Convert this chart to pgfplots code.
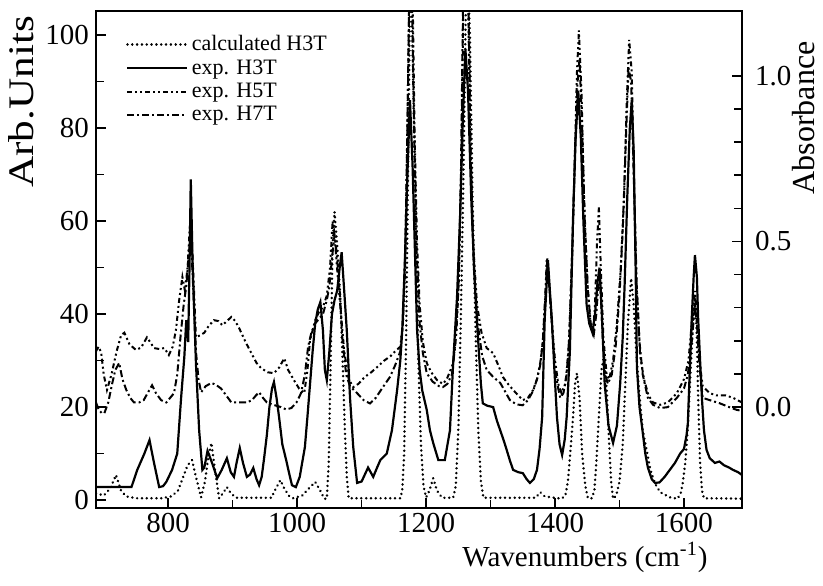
\documentclass[border=0pt]{standalone}
\usepackage{fontspec}
\setmainfont{Liberation Serif}
\usepackage{pgfplots}
\pgfplotsset{compat=1.18}
\begin{document}
\begin{tikzpicture}
\path[use as bounding box] (-48pt,-38.5pt) rectangle (363.5pt,254pt);
\begin{axis}[
  scale only axis, width=323pt, height=248.5pt,
  xmin=688, xmax=1690, ymin=-1.7, ymax=105.2,
  xtick={800,1000,1200,1400,1600}, minor x tick num=1,
  ytick={0,20,40,60,80,100}, minor y tick num=1,
  xtick pos=lower, ytick pos=left,
  tick align=inside, major tick length=5pt, minor tick length=4pt,
  tick style={line width=0.8pt,black},
  axis line style={line width=1.1pt},
  /pgf/number format/assume math mode=true,
  /pgf/number format/1000 sep={},
  tick label style={font=\fontsize{14.5}{16}\selectfont},
  xticklabel style={yshift=1pt},
  xlabel={Wavenumbers (cm\textsuperscript{-1})},
  xlabel style={font=\fontsize{14.5}{17}\selectfont, at={(ticklabel cs:0.757)}, anchor=north, yshift=2pt},
  ylabel={\scalebox{1.2}[1]{Arb.Units}},
  ylabel style={font=\fontsize{18}{20}\selectfont, at={(rel axis cs:0,0.817)}, anchor=center, yshift=37.5pt},
  legend cell align=left,
  legend style={at={(rel axis cs:0.046,0.958)}, anchor=north west, draw=none, fill=none,
    font=\fontsize{11}{12}\selectfont, row sep=0pt, inner sep=0pt, nodes={inner sep=1.5pt}},
  legend image code/.code={\draw[#1] (0pt,0pt) -- (30pt,0pt);},
  clip=true,
]
\addplot[black, line width=1.35pt, dash pattern=on 0.01pt off 2.4pt, line cap=round] coordinates {
(688,1.5) (700,1.0) (710,2.5) (719,5.4) (727,2.0) (735,0.8) (750,0.4) (790,0.4) (805,0.8) (815,2) (822,4.5) (830,7.5) (837,8.6) (843,5) (851,0.6) (857,4) (862,9) (867,12.3) (872,7) (879,0.4) (885,1.5) (891,2.8) (897,1.5) (905,0.5) (960,0.5) (967,2.5) (974,4.3) (980,2.5) (988,0.8) (994,0.4) (1008,1) (1018,2.5) (1028,3.9) (1036,2) (1042,0.3) (1046,0.3) (1049,8) (1052,30) (1055,55) (1058,62) (1062,55) (1067,43.7) (1071,28) (1074,15) (1077,5) (1080,0.4) (1160,0.4) (1163,2) (1166,10) (1169,35) (1172,70) (1176,120) (1180,90) (1184,60) (1188,30) (1192,12) (1196,3) (1200,0.6) (1205,2) (1211,4.7) (1217,2) (1225,0.5) (1242,0.5) (1246,3) (1250,15) (1254,40) (1258,70) (1263,120) (1268,100) (1272,65) (1277,35) (1281,15) (1285,4) (1289,0.5) (1370,0.5) (1377,1.7) (1384,0.8) (1410,0.3) (1416,1) (1420,4) (1424,10.8) (1428,18) (1431,25) (1434,27.3) (1438,22) (1442,10) (1447,3) (1451,0.4) (1457,0.4) (1461,2) (1464,8) (1468,18) (1472,28) (1476,31) (1480,24) (1484,12) (1487,4) (1490,0.3) (1495,1) (1500,4) (1505,12) (1509,25) (1513,38) (1518,47.7) (1522,42) (1526,32) (1530,24) (1536,15) (1542,10.8) (1548,6.5) (1555,3.6) (1563,1.7) (1578,0.6) (1590,0.3) (1595,1.5) (1598,3.6) (1602,8) (1606,15.7) (1610,27) (1614,38) (1617,43.6) (1620,35) (1622,22) (1625,8) (1628,2) (1631,0.4) (1690,0.3)
};
\addlegendentry{calculated H3T}
\addplot[black, line width=1.1pt] coordinates {
(688,2.8) (700,2.8) (720,2.8) (743,2.8) (752,6.5) (763,10) (771,12.9) (778,8) (786,2.8) (792,3) (797,3.9) (806,6.5) (814,10) (820,22) (825,30.8) (828,38.7) (831,34) (833,50) (835,69) (838,50) (843,29.5) (848,15) (853,6.5) (856,7) (861,10.6) (868,8) (876,4.7) (883,6.5) (891,9) (897,6) (902,5) (906,8) (911,11.2) (916,8) (922,5) (927,5.5) (932,6.9) (937,4.5) (941,3.2) (945,5) (949,9.3) (953,14) (957,20) (961,24) (964,25.4) (968,22) (972,17.8) (977,12) (983,8.6) (988,5.5) (992,3.2) (998,2.8) (1004,5) (1012,11.4) (1016,18) (1020,25) (1024,32) (1028,38) (1032,41) (1036,42.6) (1040,36.5) (1043,28) (1046,25.8) (1050,32) (1054,40) (1058,43) (1062,45) (1066,50) (1069,53.3) (1073,45) (1077,36.5) (1082,22) (1087,11.4) (1093,3.7) (1100,4) (1105,5.5) (1110,7) (1114,6) (1118,5) (1124,7) (1129,8.6) (1139,10) (1147,15) (1155,23.6) (1160,30) (1163,36.5) (1167,51) (1171,70) (1175,86) (1179,72) (1183,52) (1186,36.6) (1190,28) (1194,23.6) (1201,19.4) (1206,15) (1211,12.3) (1219,8.6) (1229,8.6) (1237,15) (1242,29.5) (1248,43.7) (1253,62) (1257,82) (1261,97) (1265,88) (1270,65) (1275,48) (1280,36) (1285,25) (1288,20.8) (1295,20.3) (1304,20) (1310,17) (1315,15) (1320,13) (1325,10.8) (1330,8.5) (1335,6.5) (1343,6) (1350,5.8) (1356,4.5) (1361,3.7) (1367,4.5) (1372,6.5) (1376,11) (1380,17.8) (1384,39) (1389,51.6) (1392,45) (1395,39) (1399,28) (1403,17.8) (1407,12) (1411,9.7) (1415,13) (1418,17.8) (1423,32) (1428,61) (1432,78) (1436,88) (1440,78) (1444,60) (1449,42) (1453,38) (1458,36) (1462,40) (1466,47) (1469,50) (1472,42) (1477,25) (1483,16) (1490,12.3) (1496,16) (1501,25) (1505,35) (1508,46.6) (1512,65) (1516,80) (1519,86) (1522,75) (1525,50) (1527,28.6) (1531,20) (1535,15.7) (1540,10) (1544,7) (1550,4.5) (1555,3.7) (1562,3.8) (1570,5) (1578,6.5) (1586,8) (1594,10) (1600,11) (1604,14) (1606,16.5) (1609,28) (1612,39) (1615,48) (1617,52.7) (1620,48) (1622,39) (1625,30) (1628,21.5) (1631,15) (1635,10.8) (1640,9) (1648,8) (1655,8.3) (1662,7.5) (1670,7) (1676,6.5) (1684,6) (1690,5.4)
};
\addlegendentry{exp. H3T}
\addplot[black, line width=1pt, dash pattern=on 2.5pt off 1.5pt on 1pt off 1.5pt on 1pt off 1.5pt] coordinates {
(688,32) (692,33) (696,31.8) (700,27) (705,23.7) (712,27) (720,32) (727,35.5) (732,36) (740,33.5) (750,32.3) (758,32.8) (767,35) (772,34) (778,32.7) (786,32.5) (794,32.7) (801,31.2) (807,33) (812,36.6) (817,43) (822,48) (826,45) (830,50) (834,60) (838,52) (843,35) (850,35.5) (856,36) (863,37.5) (871,38.7) (878,38.5) (884,37.6) (891,38.5) (898,39.4) (904,38.5) (910,37) (920,34) (929,31.6) (937,29.5) (944,28.4) (954,27.5) (964,27.3) (972,28.5) (980,30.5) (986,28) (995,25.8) (1003,24) (1011,23) (1016,28) (1020,34.4) (1028,38.7) (1034,40.5) (1040,41.5) (1046,44) (1051,50) (1055,60) (1059,55) (1063,48) (1068,40) (1073,32) (1080,26) (1087,24.3) (1095,25) (1105,26.5) (1115,27.5) (1124,28.6) (1135,30) (1145,31) (1152,32) (1160,33) (1164,38) (1167,48) (1170,70) (1174,110) (1178,120) (1182,80) (1186,55) (1190,42) (1195,34) (1201,29.5) (1208,27.5) (1217,25.8) (1226,25) (1232,26) (1238,28) (1242,29.5) (1247,36) (1251,48) (1255,75) (1259,120) (1264,120) (1268,80) (1273,55) (1279,42) (1286,36) (1294,32.7) (1304,31.6) (1312,29) (1319,26.5) (1327,25) (1335,23.7) (1343,22.5) (1350,21.5) (1358,22) (1366,23.7) (1372,26) (1377,29.5) (1381,34) (1384,40) (1387,51.6) (1390,48) (1394,40) (1400,30) (1405,25) (1410,23) (1416,25) (1421,32) (1426,50) (1430,70) (1434,92) (1437,101) (1441,88) (1445,65) (1450,47) (1455,38) (1459,36) (1462,42) (1465,55) (1468,63) (1471,50) (1475,35) (1480,27) (1484,26) (1490,30) (1496,38) (1502,50) (1507,65) (1511,85) (1515,99) (1519,92) (1523,65) (1527,45) (1532,31) (1538,26) (1545,22.5) (1552,21) (1563,20.5) (1575,21) (1589,23) (1600,26) (1607,30) (1612,38) (1617,45) (1620,40) (1624,30) (1629,24.5) (1640,23) (1651,22.5) (1665,22.5) (1676,22) (1690,21)
};
\addlegendentry{exp. H5T}
\addplot[black, line width=1pt, dash pattern=on 3.5pt off 1.5pt on 1pt off 1.5pt] coordinates {
(688,21) (692,19.5) (697,18.7) (701,18.7) (707,21) (713,25) (718,28) (724,29.5) (729,26) (735,23.7) (741,22) (747,21) (755,21) (762,21.5) (768,23) (775,24.7) (781,23) (789,21.5) (797,21) (803,22) (809,23) (814,27) (819,35) (824,42) (828,46) (832,53) (835,57) (839,45) (843,32) (847,26) (851,23.2) (858,24.5) (867,25.2) (874,24.8) (882,24) (890,22.5) (898,21) (910,21) (922,21) (930,21.5) (936,22.5) (941,23.2) (947,22) (953,21) (963,20.5) (975,20) (983,19.5) (991,19.8) (999,21) (1006,23) (1012,27) (1017,33) (1022,36) (1028,38) (1034,39) (1040,40) (1046,43) (1050,46) (1054,52) (1058,57) (1062,52) (1066,45) (1070,35) (1076,27) (1082,24.5) (1093,23) (1103,21.5) (1113,20.8) (1122,22) (1134,24.5) (1144,26.5) (1152,29) (1160,32) (1164,38) (1168,55) (1172,90) (1176,130) (1180,90) (1185,55) (1190,38) (1195,31.6) (1201,27.3) (1210,25.5) (1220,24.5) (1226,24.3) (1233,25) (1240,27) (1245,33) (1250,45) (1254,70) (1259,125) (1264,125) (1269,75) (1274,50) (1280,38) (1287,31) (1294,28) (1304,26.5) (1315,25.2) (1322,23.5) (1330,21.5) (1340,20.6) (1350,20.4) (1358,21.5) (1366,23.5) (1372,26) (1377,29) (1381,34) (1384,42) (1388,52) (1391,46) (1395,38) (1400,28) (1405,24) (1408,22) (1413,23) (1418,27) (1422,35) (1427,55) (1431,75) (1435,90) (1438,95) (1442,80) (1446,60) (1451,45) (1456,37) (1460,35.5) (1464,40) (1467,46) (1470,47) (1474,35) (1478,27) (1482,25) (1488,27) (1494,33) (1500,44) (1505,58) (1510,78) (1514,93) (1518,90) (1522,70) (1526,48) (1531,34) (1536,27) (1544,22) (1552,20.5) (1563,19.8) (1575,20) (1589,22) (1600,24) (1606,27) (1612,34) (1617,42) (1620,38) (1624,29) (1629,22) (1640,21.5) (1656,20.8) (1670,20) (1682,19.4) (1690,19.2)
};
\addlegendentry{exp. H7T}
\end{axis}
\begin{axis}[
  scale only axis, width=323pt, height=248.5pt,
  xmin=688, xmax=1690, ymin=-0.305, ymax=1.196,
  axis x line=none, axis y line*=right,
  ytick={0,0.5,1}, minor y tick num=4,
  tick align=inside, major tick length=5pt, minor tick length=4pt,
  tick style={line width=0.8pt,black},
  axis line style={line width=1.1pt, -},
  /pgf/number format/assume math mode=true,
  yticklabel style={font=\fontsize{14.5}{16}\selectfont, xshift=3pt, /pgf/number format/.cd, fixed, fixed zerofill, precision=1},
  ylabel={Absorbance},
  ylabel style={font=\fontsize{16}{19}\selectfont, at={(rel axis cs:1,0.785)}, anchor=center, yshift=-31pt},
]
\end{axis}
\end{tikzpicture}
\end{document}
